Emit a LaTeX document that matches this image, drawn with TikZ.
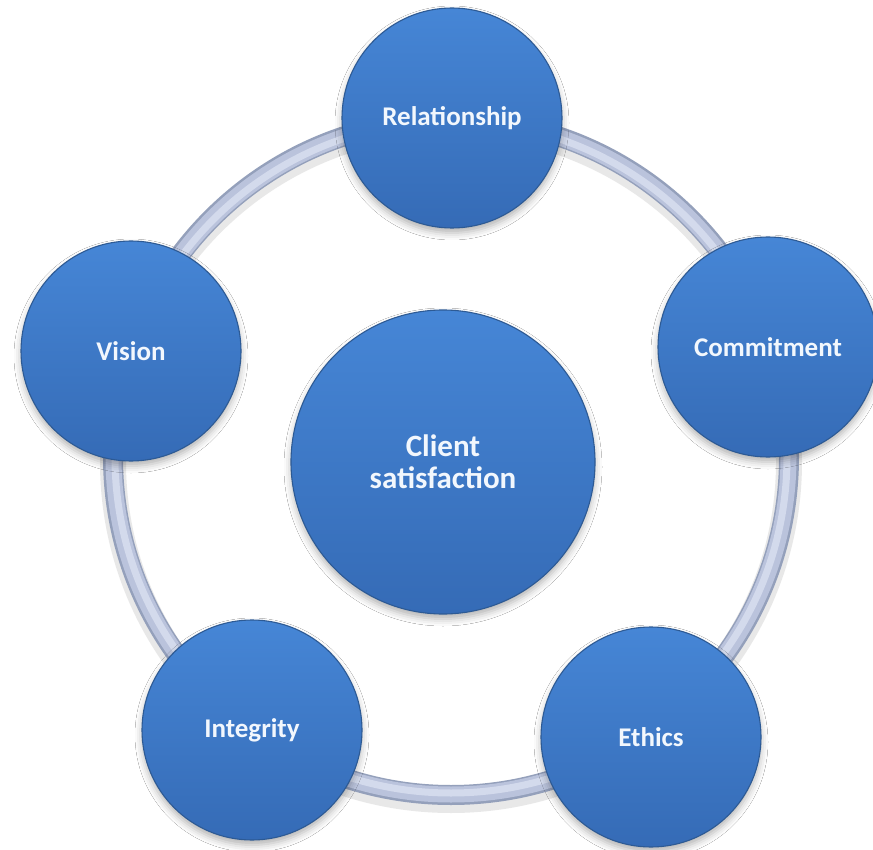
\documentclass[tikz,border=0pt]{standalone}
\usepackage{fontspec}
\setmainfont{Carlito}
\usetikzlibrary{shadows.blur}
\definecolor{discTop}{HTML}{4686D6}
\definecolor{discMid}{HTML}{3C79C8}
\definecolor{discBot}{HTML}{356BB6}
\definecolor{discEdge}{HTML}{2D5A94}
\definecolor{ringDark}{HTML}{94A0BB}
\definecolor{ringMid}{HTML}{BAC3DC}
\definecolor{ringLight}{HTML}{D3DAEC}
\definecolor{textWhite}{HTML}{F2F7FD}
\begin{document}
\begin{tikzpicture}[x=1pt,y=-1pt,
  disc/.style={circle, draw=discEdge, line width=1.1pt, top color=discTop, middle color=discMid, bottom color=discBot,
    text=textWhite, inner sep=0pt, align=center,
    blur shadow={shadow xshift=0pt, shadow yshift=-5pt, shadow blur radius=7pt, shadow opacity=30}},
  outerdisc/.style={disc, minimum size=220pt, font=\bfseries\fontsize{27}{32}\selectfont},
  centerdisc/.style={disc, minimum size=304pt, font=\bfseries\fontsize{31}{35}\selectfont}]
\fill[white] (0,0) rectangle (873,850);
\useasboundingbox (0,0) rectangle (873,850);
\coordinate (rc) at (451,457);
% ring
\draw[black!35, opacity=0.25, line width=26pt] ([yshift=-5pt]rc) circle[radius=338];
\draw[ringDark, line width=20pt] (rc) circle[radius=338];
\draw[ringMid, line width=16pt] (rc) circle[radius=337.5];
\draw[ringLight, line width=7pt] (rc) circle[radius=336];
% discs
\node[centerdisc] (center) at (443,462) {Client\\[-3pt]satisfaction};
\node[outerdisc] (rel) at (452,118) {Relationship};
\node[outerdisc] (com) at (768,347) {Commitment};
\node[outerdisc] (eth) at (651,737) {Ethics};
\node[outerdisc] (int) at (252,730) {Integrity};
\node[outerdisc] (vis) at (131,351) {Vision};
\end{tikzpicture}
\end{document}
